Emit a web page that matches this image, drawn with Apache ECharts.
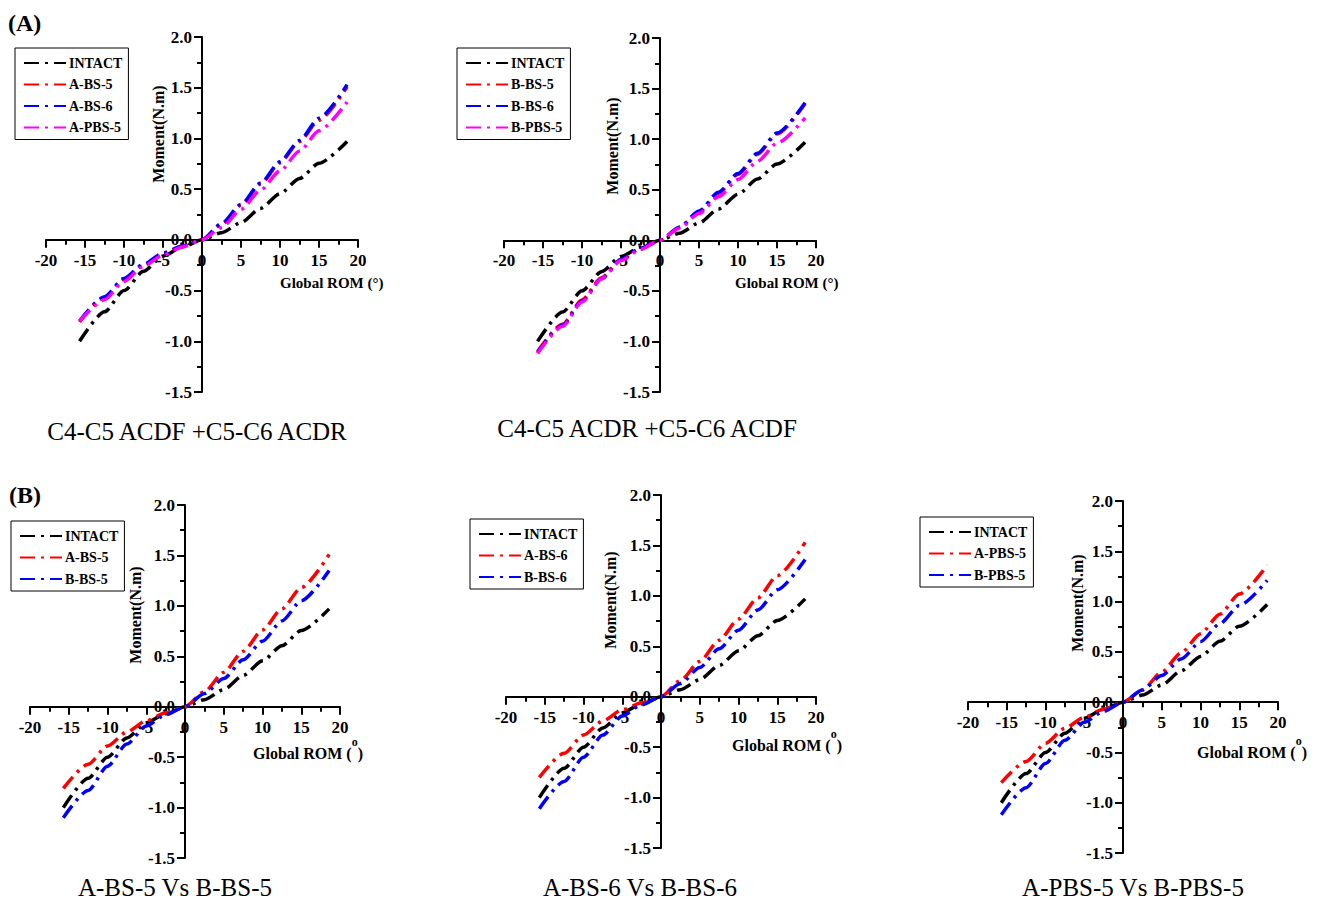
<!DOCTYPE html>
<html>
<head>
<meta charset="utf-8">
<script src="https://cdn.jsdelivr.net/npm/echarts@6/dist/echarts.min.js"></script>
<style>
  html, body { margin: 0; padding: 0; background: #fff; }
  #chart { width: 1320px; height: 900px; }
</style>
</head>
<body>
<div id="chart"></div>
<script>
// Global ROM (deg) sample points shared by all curves
const ROM = [-15.7, -12.5, -10, -7.5, -5, -2.5, 0, 2.5, 5, 7.5, 10, 12.5, 15, 18.6]

// Moment (N.m) for each model
const INTACT  = [-1.00, -0.71, -0.50, -0.31, -0.16, -0.07, 0, 0.07, 0.17, 0.31, 0.455, 0.605, 0.755, 0.97]
const A_BS_5  = [-0.81, -0.57, -0.39, -0.25, -0.14, -0.06, 0, 0.15, 0.34, 0.55, 0.76, 0.97, 1.18, 1.51]
const A_BS_6  = [-0.80, -0.56, -0.38, -0.24, -0.13, -0.06, 0, 0.16, 0.35, 0.56, 0.77, 0.98, 1.20, 1.53]
const A_PBS_5 = [-0.80, -0.59, -0.41, -0.26, -0.15, -0.07, 0, 0.12, 0.30, 0.49, 0.68, 0.875, 1.075, 1.36]
const B_BS_5  = [-1.10, -0.83, -0.59, -0.37, -0.19, -0.08, 0, 0.13, 0.28, 0.465, 0.65, 0.85, 1.05, 1.35]
const B_BS_6  = [-1.11, -0.84, -0.60, -0.38, -0.19, -0.08, 0, 0.13, 0.29, 0.475, 0.66, 0.86, 1.06, 1.36]
const B_PBS_5 = [-1.12, -0.85, -0.61, -0.38, -0.20, -0.09, 0, 0.12, 0.265, 0.43, 0.60, 0.78, 0.96, 1.21]

const panelLetters = ['(A)', '(B)']
const captions = [
  'C4-C5 ACDF +C5-C6 ACDR',
  'C4-C5 ACDR +C5-C6 ACDF',
  'A-BS-5 Vs B-BS-5',
  'A-BS-6 Vs B-BS-6',
  'A-PBS-5 Vs B-PBS-5'
]

const X_MIN = -20, X_MAX = 20, Y_MIN = -1.5, Y_MAX = 2.0

const BLACK = '#000000'
const RED = '#ff0000'
const BLUE = '#0000ff'
const MAGENTA = '#ff00ff'
const FONT = '"Liberation Serif", "Times New Roman", serif'

const panels = [
  {
    grid: { left: 46, top: 37, width: 312, height: 355 },
    lines: [['INTACT', INTACT, BLACK], ['A-BS-5', A_BS_5, RED], ['A-BS-6', A_BS_6, BLUE], ['A-PBS-5', A_PBS_5, MAGENTA]],
    legend: { left: 15, top: 48 },
    yName: [158, 134], xName: [280, 283], sup: false,
    caption: [197, 431]
  },
  {
    grid: { left: 504, top: 38, width: 312, height: 354 },
    lines: [['INTACT', INTACT, BLACK], ['B-BS-5', B_BS_5, RED], ['B-BS-6', B_BS_6, BLUE], ['B-PBS-5', B_PBS_5, MAGENTA]],
    legend: { left: 457, top: 48 },
    yName: [612, 146], xName: [735, 283], sup: false,
    caption: [647, 428]
  },
  {
    grid: { left: 30, top: 505, width: 310, height: 353 },
    lines: [['INTACT', INTACT, BLACK], ['A-BS-5', A_BS_5, RED], ['B-BS-5', B_BS_5, BLUE]],
    legend: { left: 11, top: 521 },
    yName: [135, 615], xName: [253, 753], sup: true,
    caption: [175, 887]
  },
  {
    grid: { left: 506, top: 495, width: 310, height: 353 },
    lines: [['INTACT', INTACT, BLACK], ['A-BS-6', A_BS_6, RED], ['B-BS-6', B_BS_6, BLUE]],
    legend: { left: 470, top: 519 },
    yName: [610, 600], xName: [732, 745], sup: true,
    caption: [640, 887]
  },
  {
    grid: { left: 968, top: 501, width: 310, height: 352 },
    lines: [['INTACT', INTACT, BLACK], ['A-PBS-5', A_PBS_5, RED], ['B-PBS-5', B_PBS_5, BLUE]],
    legend: { left: 920, top: 517 },
    yName: [1077, 603], xName: [1197, 752], sup: true,
    caption: [1133, 887]
  }
]

const DASH = [15, 6, 3, 6]

const axisCommon = {
  axisLine: { onZero: false, lineStyle: { color: '#000', width: 2 } },
  axisTick: { show: true, inside: false, length: 8, lineStyle: { color: '#000', width: 2 } },
  minorTick: { show: true, splitNumber: 2, length: 5, lineStyle: { color: '#000', width: 2 } },
  splitLine: { show: false },
  minorSplitLine: { show: false }
}

const grids = []
const xAxes = []
const yAxes = []
const series = []
const legends = []
const graphics = []

panels.forEach((p, i) => {
  const g = p.grid
  // shift the axes from the grid edge onto the zero lines
  const xOffset = -g.height * (0 - Y_MIN) / (Y_MAX - Y_MIN)
  const yOffset = -g.width * (0 - X_MIN) / (X_MAX - X_MIN)

  grids.push(Object.assign({ containLabel: false }, g))
  xAxes.push(Object.assign({
    type: 'value', gridIndex: i, min: X_MIN, max: X_MAX, interval: 5,
    position: 'bottom', offset: xOffset,
    axisLabel: { color: '#000', fontFamily: FONT, fontWeight: 'bold', fontSize: 17, margin: 12 }
  }, axisCommon))
  yAxes.push(Object.assign({
    type: 'value', gridIndex: i, min: Y_MIN, max: Y_MAX, interval: 0.5,
    position: 'left', offset: yOffset,
    axisLabel: {
      color: '#000', fontFamily: FONT, fontWeight: 'bold', fontSize: 17, margin: 10,
      formatter: v => v.toFixed(1)
    }
  }, axisCommon))

  p.lines.forEach(([name, values, color]) => {
    series.push({
      type: 'line', name, xAxisIndex: i, yAxisIndex: i,
      data: ROM.map((x, j) => [x, values[j]]),
      symbol: 'none', showSymbol: false,
      smooth: 0.25, smoothMonotone: 'x',
      lineStyle: { color, width: 3.5, type: DASH },
      silent: true, animation: false
    })
  })

  legends.push({
    orient: 'vertical', left: p.legend.left, top: p.legend.top,
    padding: [8, 6, 5, 8], itemGap: 7.5, itemWidth: 42, itemHeight: 14,
    borderColor: '#000', borderWidth: 1, selectedMode: false,
    itemStyle: { opacity: 0 },
    textStyle: { color: '#000', fontFamily: FONT, fontWeight: 'bold', fontSize: 14, padding: [0, 0, 0, -2] },
    data: p.lines.map(([name, , color]) => ({ name, lineStyle: { color } }))
  })

  graphics.push({
    type: 'text', x: p.yName[0], y: p.yName[1], rotation: Math.PI / 2,
    style: {
      text: 'Moment(N.m)', fill: '#000', font: 'bold 16px ' + FONT,
      align: 'center', verticalAlign: 'middle'
    }
  })

  graphics.push({
    type: 'text', x: p.xName[0], y: p.xName[1],
    style: p.sup ? {
      text: '{n|Global ROM (}{s|o}{n|)}',
      align: 'left', verticalAlign: 'middle',
      rich: {
        n: { fill: '#000', fontFamily: FONT, fontWeight: 'bold', fontSize: 16, lineHeight: 34 },
        s: { fill: '#000', fontFamily: FONT, fontWeight: 'bold', fontSize: 12, lineHeight: 10, verticalAlign: 'top' }
      }
    } : {
      text: 'Global ROM (°)', fill: '#000', font: 'bold 15px ' + FONT,
      align: 'left', verticalAlign: 'middle'
    }
  })

  graphics.push({
    type: 'text', x: p.caption[0], y: p.caption[1],
    style: {
      text: captions[i], fill: '#000', font: '25px ' + FONT,
      align: 'center', verticalAlign: 'middle'
    }
  })
})

graphics.push({
  type: 'text', x: 8, y: 23,
  style: { text: panelLetters[0], fill: '#000', font: 'bold 24px ' + FONT, align: 'left', verticalAlign: 'middle' }
})
graphics.push({
  type: 'text', x: 9, y: 495,
  style: { text: panelLetters[1], fill: '#000', font: 'bold 24px ' + FONT, align: 'left', verticalAlign: 'middle' }
})

const chart = echarts.init(document.getElementById('chart'), null, { renderer: 'svg' })
chart.setOption({
  backgroundColor: '#fff',
  animation: false,
  grid: grids,
  xAxis: xAxes,
  yAxis: yAxes,
  legend: legends,
  series,
  graphic: graphics
})
</script>
</body>
</html>
